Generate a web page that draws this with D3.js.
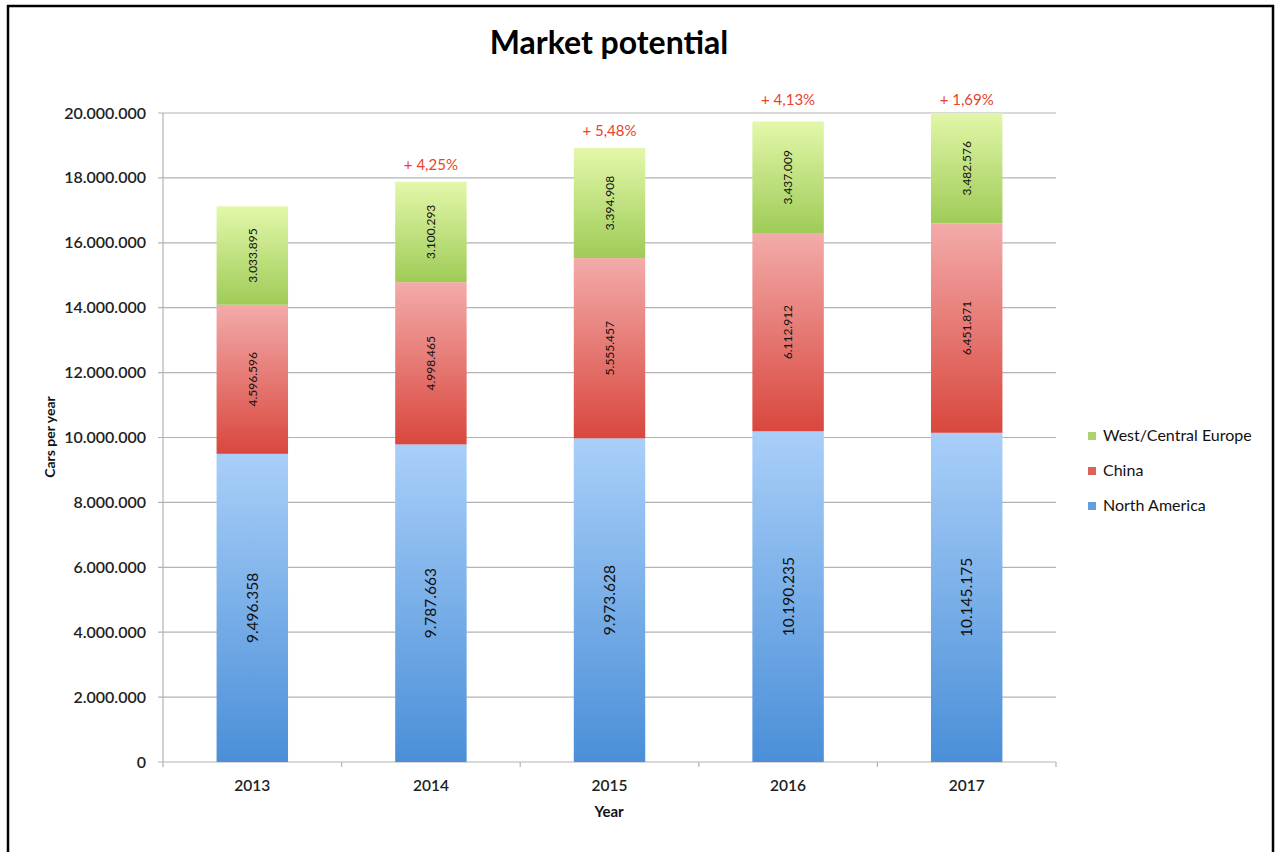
<!DOCTYPE html>
<html>
<head>
<meta charset="utf-8">
<script src="https://cdn.jsdelivr.net/npm/d3@7"></script>
<style>
  body { margin: 0; background: #fff; }
  text { font-family: Lato, "Open Sans", sans-serif; }
</style>
</head>
<body>
<svg></svg>
<script>
var years = ["2013", "2014", "2015", "2016", "2017"];
var northAmerica = [9496358, 9787663, 9973628, 10190235, 10145175];
var china = [4596596, 4998465, 5555457, 6112912, 6451871];
var westEurope = [3033895, 3100293, 3394908, 3437009, 3482576];
var growth = ["", "+ 4,25%", "+ 5,48%", "+ 4,13%", "+ 1,69%"];
var yTicks = [0, 2000000, 4000000, 6000000, 8000000, 10000000, 12000000, 14000000, 16000000, 18000000, 20000000];

var width = 1282;
var height = 852;

var svg = d3.select("svg")
              .attr("width", width)
              .attr("height", height);

var loc = d3.formatLocale({decimal: ",", thousands: ".", grouping: [3], currency: ["", ""]});
var fmt = loc.format(",d");

var series = [
  {name: "North America", values: northAmerica, top: "#a9cff9", bottom: "#4a8fd8", id: "gNA", size: 15.5},
  {name: "China", values: china, top: "#f3abaa", bottom: "#d9473d", id: "gCN", size: 12},
  {name: "West/Central Europe", values: westEurope, top: "#e3f8aa", bottom: "#9fcb57", id: "gEU", size: 12}
];

var plotL = 163, plotR = 1056, plotT = 113, plotB = 762;

// gradients + clip to plot area (axis max is 20M)
var defs = svg.append("defs");
series.forEach(function(s) {
  var g = defs.append("linearGradient")
      .attr("id", s.id)
      .attr("x1", 0).attr("y1", 0).attr("x2", 0).attr("y2", 1);
  g.append("stop").attr("offset", "0%").attr("stop-color", s.top);
  g.append("stop").attr("offset", "100%").attr("stop-color", s.bottom);
});
defs.append("clipPath").attr("id", "plotClip")
  .append("rect")
    .attr("x", plotL).attr("y", plotT)
    .attr("width", plotR - plotL).attr("height", plotB - plotT);

// frame
svg.append("rect")
    .attr("x", 8).attr("y", 6)
    .attr("width", 1265).attr("height", 900)
    .attr("fill", "none")
    .attr("stroke", "#000")
    .attr("stroke-width", 2.5);

var x = d3.scaleBand().domain(years).range([plotL, plotR]);
var y = d3.scaleLinear().domain([0, 20000000]).range([plotB, plotT]);
var barW = x.bandwidth() * 0.4;

// gridlines
svg.append("g")
    .selectAll("line")
    .data(yTicks)
    .enter()
    .append("line")
      .attr("x1", plotL - 5)
      .attr("x2", plotR)
      .attr("y1", function(d) { return y(d); })
      .attr("y2", function(d) { return y(d); })
      .attr("stroke", "#b3b3b3")
      .attr("stroke-width", 1.2);

// y axis line
svg.append("line")
    .attr("x1", plotL).attr("x2", plotL)
    .attr("y1", plotT).attr("y2", plotB)
    .attr("stroke", "#b3b3b3").attr("stroke-width", 1.2);

// x ticks at band edges
var edges = years.map(function(d) { return x(d); }).concat([plotR]);
svg.append("g")
    .selectAll("line")
    .data(edges)
    .enter()
    .append("line")
      .attr("x1", function(d) { return d; })
      .attr("x2", function(d) { return d; })
      .attr("y1", plotB)
      .attr("y2", plotB + 5)
      .attr("stroke", "#b3b3b3").attr("stroke-width", 1.2);

// y tick labels
svg.append("g")
    .selectAll("text")
    .data(yTicks)
    .enter()
    .append("text")
      .attr("x", 146)
      .attr("y", function(d) { return y(d) + 5.5; })
      .attr("text-anchor", "end")
      .attr("font-size", 16)
      .attr("font-weight", 600)
      .attr("fill", "#222")
      .text(function(d) { return fmt(d); });

// x tick labels
svg.append("g")
    .selectAll("text")
    .data(years)
    .enter()
    .append("text")
      .attr("x", function(d) { return x(d) + x.bandwidth() / 2; })
      .attr("y", 791)
      .attr("text-anchor", "middle")
      .attr("font-size", 15.5)
      .attr("font-weight", 600)
      .attr("fill", "#222")
      .text(function(d) { return d; });

// stacked bars
var rows = years.map(function(yr, i) {
  return {year: yr, na: northAmerica[i], cn: china[i], eu: westEurope[i]};
});
var stack = d3.stack().keys(["na", "cn", "eu"]);
var layers = stack(rows);

layers.forEach(function(layer, li) {
  var s = series[li];
  var g = svg.append("g");
  g.selectAll("rect")
    .data(layer)
    .enter()
    .append("rect")
      .attr("clip-path", "url(#plotClip)")
      .attr("x", function(d) { return x(d.data.year) + (x.bandwidth() - barW) / 2; })
      .attr("y", function(d) { return y(d[1]); })
      .attr("width", barW)
      .attr("height", function(d) { return y(d[0]) - y(d[1]); })
      .attr("fill", "url(#" + s.id + ")");
  g.selectAll("text")
    .data(layer)
    .enter()
    .append("text")
      .attr("transform", function(d) {
        var cx = x(d.data.year) + x.bandwidth() / 2 + s.size * 0.35;
        var cy = (y(d[0]) + y(Math.min(d[1], 20000000))) / 2;
        return "translate(" + cx + "," + cy + ") rotate(-90)";
      })
      .attr("text-anchor", "middle")
      .attr("font-size", s.size)
      .attr("fill", "#111")
      .text(function(d) { return fmt(d[1] - d[0]); });
});

// growth labels; near the top they sit just above the top gridline
svg.append("g")
    .selectAll("text")
    .data(layers[2])
    .enter()
    .append("text")
      .attr("x", function(d) { return x(d.data.year) + x.bandwidth() / 2; })
      .attr("y", function(d) {
        var ly = y(d[1]) - 12;
        return ly < plotT + 5 ? plotT - 8 : ly;
      })
      .attr("text-anchor", "middle")
      .attr("font-size", 15)
      .attr("fill", "#e8432f")
      .text(function(d, i) { return growth[i]; });

// titles
svg.append("text")
    .attr("x", 609).attr("y", 54)
    .attr("text-anchor", "middle")
    .attr("font-size", 32)
    .attr("font-weight", 700)
    .attr("fill", "#000")
    .text("Market potential");

svg.append("text")
    .attr("x", 609).attr("y", 817)
    .attr("text-anchor", "middle")
    .attr("font-size", 15)
    .attr("font-weight", 700)
    .attr("fill", "#111")
    .text("Year");

svg.append("text")
    .attr("transform", "translate(55,437) rotate(-90)")
    .attr("text-anchor", "middle")
    .attr("font-size", 14)
    .attr("font-weight", 700)
    .attr("fill", "#111")
    .text("Cars per year");

// legend
var legendItems = series.slice().reverse();
var legend = svg.append("g")
    .selectAll("g")
    .data(legendItems)
    .enter()
    .append("g")
      .attr("transform", function(d, i) { return "translate(1088," + (439 + i * 35) + ")"; });
legend.append("rect")
    .attr("x", 0).attr("y", -7)
    .attr("width", 8).attr("height", 8)
    .attr("fill", function(d) { return d.bottom; })
    .attr("opacity", 0.85);
legend.append("text")
    .attr("x", 15).attr("y", 2)
    .attr("font-size", 16)
    .attr("fill", "#111")
    .text(function(d) { return d.name; });
</script>
</body>
</html>
